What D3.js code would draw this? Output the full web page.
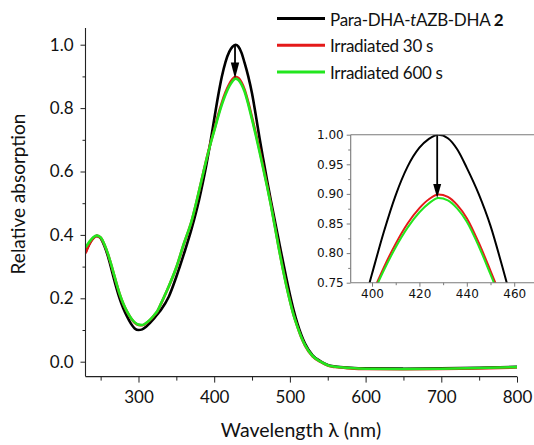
<!DOCTYPE html>
<html>
<head>
<meta charset="utf-8">
<script src="https://cdn.jsdelivr.net/npm/d3@7"></script>
<style>
  html, body { margin: 0; padding: 0; background: #fff; }
  svg { display: block; }
</style>
</head>
<body>
<svg id="chart" width="534" height="445"></svg>
<script>
// Wavelength grid (nm) and relative absorption of the three spectra
const wavelengths = [230,235,240,245,250,255,260,265,270,275,280,285,290,295,300,305,310,315,320,325,330,340,350,360,370,380,385,390,395,400,405,410,415,420,424,428,432,436,440,445,450,455,460,465,470,475,480,485,490,495,500,505,510,515,520,530,540,550,560,580,600,650,700,750,800];

const pristine = [0.345,0.372,0.390,0.397,0.390,0.365,0.330,0.285,0.240,0.200,0.168,0.142,0.120,0.105,0.100,0.102,0.110,0.122,0.135,0.150,0.165,0.205,0.268,0.340,0.418,0.510,0.565,0.625,0.692,0.765,0.836,0.898,0.946,0.978,0.993,1.000,0.994,0.975,0.944,0.900,0.846,0.777,0.704,0.636,0.570,0.507,0.446,0.386,0.326,0.267,0.212,0.162,0.120,0.085,0.057,0.020,0.002,-0.010,-0.015,-0.019,-0.021,-0.022,-0.021,-0.019,-0.016];

const irradiated30 = [0.342,0.370,0.388,0.397,0.391,0.369,0.337,0.297,0.254,0.214,0.182,0.157,0.137,0.123,0.116,0.115,0.121,0.131,0.144,0.159,0.184,0.237,0.297,0.372,0.442,0.538,0.590,0.641,0.688,0.731,0.776,0.816,0.850,0.876,0.891,0.899,0.895,0.881,0.859,0.818,0.770,0.720,0.667,0.611,0.555,0.495,0.430,0.364,0.302,0.245,0.193,0.147,0.110,0.077,0.051,0.017,0.000,-0.012,-0.017,-0.021,-0.023,-0.024,-0.023,-0.021,-0.018];

const irradiated600 = [0.360,0.378,0.392,0.398,0.392,0.370,0.338,0.298,0.255,0.215,0.183,0.158,0.138,0.124,0.117,0.116,0.122,0.132,0.145,0.160,0.185,0.238,0.298,0.373,0.443,0.539,0.590,0.640,0.686,0.728,0.771,0.810,0.843,0.869,0.884,0.893,0.889,0.875,0.853,0.812,0.764,0.714,0.661,0.606,0.551,0.492,0.428,0.362,0.300,0.243,0.192,0.146,0.110,0.078,0.052,0.018,0.001,-0.011,-0.016,-0.020,-0.022,-0.023,-0.022,-0.020,-0.017];

const seriesNames = ["Para-DHA-", "Irradiated 30 s", "Irradiated 600 s"];
const seriesColors = ["#000000", "#e41a1a", "#22e61e"];

// Axis ticks
const xMajor = [300,400,500,600,700,800];
const xMinor = [250,350,450,550,650,750];
const yMajor = [0.0,0.2,0.4,0.6,0.8,1.0];
const yMinor = [0.1,0.3,0.5,0.7,0.9];
const insetXMajor = [400,420,440,460];
const insetXMinor = [410,430,450,470];
const insetYMajor = [0.75,0.80,0.85,0.90,0.95,1.00];
const insetYMinor = [0.775,0.825,0.875,0.925,0.975];

// Arrow showing the drop of the main band maximum
const arrowWl = 427.5, arrowFrom = 1.0, arrowTo = 0.893;

const svg = d3.select("#chart");
const mainFont = "Lato, 'Open Sans', sans-serif";
const insetFont = "'DejaVu Sans', Verdana, sans-serif";

const series = [pristine, irradiated30, irradiated600].map((vals, i) => ({
  color: seriesColors[i],
  points: wavelengths.map((w, j) => [w, vals[j]])
}));

// ---------- main panel ----------
const x = d3.scaleLinear().domain([230, 800]).range([85.5, 517]);
const y = d3.scaleLinear().domain([-0.047, 1.053]).range([376.6, 27.9]);

svg.append("clipPath").attr("id", "mainClip")
  .append("rect").attr("x", x.range()[0]).attr("y", y.range()[1])
  .attr("width", x.range()[1] - x.range()[0]).attr("height", y.range()[0] - y.range()[1]);

const line = d3.line().x(d => x(d[0])).y(d => y(d[1])).curve(d3.curveMonotoneX);
const gMain = svg.append("g").attr("clip-path", "url(#mainClip)");
series.forEach(s => {
  gMain.append("path").datum(s.points).attr("d", line)
    .attr("fill", "none").attr("stroke", s.color).attr("stroke-width", 2.6)
    .attr("stroke-linejoin", "round");
});

function drawArrow(g, xs, ys, headLen, halfW, width) {
  const ax = xs(arrowWl), y0 = ys(arrowFrom), y1 = ys(arrowTo);
  g.append("line").attr("x1", ax).attr("x2", ax).attr("y1", y0).attr("y2", y1 - headLen + 2)
    .attr("stroke", "#000").attr("stroke-width", width);
  g.append("path")
    .attr("d", `M${ax - halfW},${y1 - headLen} L${ax + halfW},${y1 - headLen} L${ax},${y1} Z`)
    .attr("fill", "#000");
}
drawArrow(svg, x, y, 16, 4.2, 1.8);

// axes (left and bottom only)
const axisColor = "#222";
const xAxis = svg.append("g").attr("transform", `translate(0,${y.range()[0]})`)
  .call(d3.axisBottom(x).tickValues(xMajor).tickSize(6).tickPadding(8).tickFormat(d3.format("d")));
svg.append("g").attr("transform", `translate(0,${y.range()[0]})`)
  .call(d3.axisBottom(x).tickValues(xMinor).tickSize(4).tickFormat(""))
  .select(".domain").remove();
const yAxis = svg.append("g").attr("transform", `translate(${x.range()[0]},0)`)
  .call(d3.axisLeft(y).tickValues(yMajor).tickSize(5).tickPadding(7).tickFormat(d3.format(".1f")));
svg.append("g").attr("transform", `translate(${x.range()[0]},0)`)
  .call(d3.axisLeft(y).tickValues(yMinor).tickSize(3).tickFormat(""))
  .select(".domain").remove();

[xAxis, yAxis].forEach(a => {
  a.select(".domain").attr("stroke", axisColor).attr("stroke-width", 1.1);
});
xAxis.select(".domain").attr("d", `M${x.range()[0]},0H${x.range()[1]}`);
yAxis.select(".domain").attr("d", `M0,${y.range()[0]}V${y.range()[1]}`);
svg.selectAll(".tick line").attr("stroke", axisColor);
xAxis.selectAll("text").attr("font-family", mainFont).attr("font-size", 17).attr("fill", "#111");
yAxis.selectAll("text").attr("font-family", mainFont).attr("font-size", 17).attr("fill", "#111");

// axis titles
svg.append("text")
  .attr("x", 301).attr("y", 437)
  .attr("text-anchor", "middle").attr("font-family", mainFont).attr("font-size", 19.5).attr("fill", "#111")
  .text("Wavelength λ (nm)");
svg.append("text")
  .attr("transform", `translate(25,194) rotate(-90)`)
  .attr("text-anchor", "middle").attr("font-family", mainFont).attr("font-size", 19).attr("fill", "#111")
  .text("Relative absorption");

// legend
const legend = svg.append("g").attr("transform", "translate(277,18.5)");
series.forEach((s, i) => {
  const row = legend.append("g").attr("transform", `translate(0,${i * 26.7})`);
  row.append("line").attr("x1", 0).attr("x2", 48).attr("y1", 0).attr("y2", 0)
    .attr("stroke", s.color).attr("stroke-width", 3);
  const t = row.append("text").attr("x", 53).attr("y", 7)
    .attr("font-family", mainFont).attr("font-size", 17).attr("letter-spacing", -0.3).attr("fill", "#111");
  if (i === 0) {
    t.append("tspan").text(seriesNames[0]);
    t.append("tspan").attr("font-style", "italic").text("t");
    t.append("tspan").text("AZB-DHA ");
    t.append("tspan").attr("font-weight", "bold").text("2");
  } else {
    t.text(seriesNames[i]);
  }
});

// ---------- inset (zoom on band maximum) ----------
const xi = d3.scaleLinear().domain([391, 470]).range([350.7, 537.9]);
const yi = d3.scaleLinear().domain([0.75, 1.0]).range([282.7, 134.7]);

svg.append("rect").attr("x", xi.range()[0]).attr("y", yi.range()[1])
  .attr("width", xi.range()[1] - xi.range()[0]).attr("height", yi.range()[0] - yi.range()[1])
  .attr("fill", "#fff");

svg.append("clipPath").attr("id", "insetClip")
  .append("rect").attr("x", xi.range()[0]).attr("y", yi.range()[1])
  .attr("width", xi.range()[1] - xi.range()[0]).attr("height", yi.range()[0] - yi.range()[1]);

const lineInset = d3.line().x(d => xi(d[0])).y(d => yi(d[1])).curve(d3.curveMonotoneX);
const gInset = svg.append("g").attr("clip-path", "url(#insetClip)");
series.forEach(s => {
  gInset.append("path").datum(s.points).attr("d", lineInset)
    .attr("fill", "none").attr("stroke", s.color).attr("stroke-width", 2)
    .attr("stroke-linejoin", "round");
});
drawArrow(svg, xi, yi, 14, 4, 1.8);

const insetColor = "#7a7a7a";
const ixAxis = svg.append("g").attr("transform", `translate(0,${yi.range()[0]})`)
  .call(d3.axisBottom(xi).tickValues(insetXMajor).tickSize(4).tickPadding(3).tickFormat(d3.format("d")));
svg.append("g").attr("transform", `translate(0,${yi.range()[0]})`)
  .call(d3.axisBottom(xi).tickValues(insetXMinor).tickSize(2.5).tickFormat(""))
  .attr("class", "insetMinor").select(".domain").remove();
const iyAxis = svg.append("g").attr("transform", `translate(${xi.range()[0]},0)`)
  .call(d3.axisLeft(yi).tickValues(insetYMajor).tickSize(4).tickPadding(3).tickFormat(d3.format(".2f")));
svg.append("g").attr("transform", `translate(${xi.range()[0]},0)`)
  .call(d3.axisLeft(yi).tickValues(insetYMinor).tickSize(2.5).tickFormat(""))
  .attr("class", "insetMinor").select(".domain").remove();
// top frame line of the inset
svg.append("line").attr("x1", xi.range()[0]).attr("x2", xi.range()[1])
  .attr("y1", yi.range()[1]).attr("y2", yi.range()[1]).attr("stroke", insetColor).attr("stroke-width", 1.1);

[ixAxis, iyAxis].forEach(a => {
  a.select(".domain").attr("stroke", insetColor).attr("stroke-width", 1.1);
  a.selectAll("text").attr("font-family", insetFont).attr("font-size", 12).attr("fill", "#111");
  a.selectAll(".tick line").attr("stroke", insetColor);
});
ixAxis.select(".domain").attr("d", `M${xi.range()[0]},0H${xi.range()[1]}`);
iyAxis.select(".domain").attr("d", `M0,${yi.range()[0]}V${yi.range()[1]}`);
svg.selectAll(".insetMinor .tick line").attr("stroke", insetColor);
</script>
</body>
</html>
